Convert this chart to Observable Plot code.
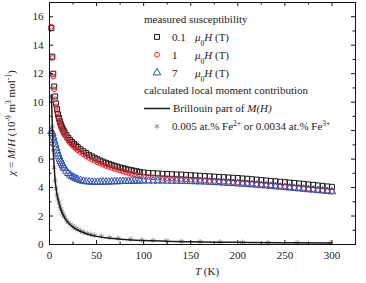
<!DOCTYPE html>
<html><head><meta charset="utf-8">
<script src="https://cdn.jsdelivr.net/npm/d3@7"></script>
<script src="https://cdn.jsdelivr.net/npm/@observablehq/plot@0.6"></script>
<style>
body{margin:0;background:#fff;}
#chart{position:relative;width:366px;height:283px;}
svg{font-family:"Liberation Serif","Times New Roman",serif;}
</style></head><body><div id="chart"></div>
<script>
// ---- data ----
const temps = [2,3,4,5,6,7,8,9,10,11,12,13,14,15,16,18,20,22,24,26,28,30,33,36,39,42,45,48,51,54,57,60,63,66,69,72,75,78,81,84,87,90,93,96,100,
  105,110,115,120,125,130,135,140,145,150,155,160,165,170,175,180,185,190,195,200,205,210,215,220,225,230,235,240,245,250,255,260,265,270,275,280,285,290,295,300];
const chi01 = [15.2,13.2,12.0,11.1,10.4,9.9,9.5,9.15,8.9,8.65,8.45,8.28,8.13,8.0,7.88,7.68,7.5,7.34,7.2,7.07,6.95,6.84,6.69,6.55,6.42,6.3,6.19,6.09,5.99,5.9,5.82,5.74,5.67,5.6,5.53,5.47,5.41,5.36,5.31,5.26,5.22,5.18,5.14,5.1,5.06,
  5.03,5.01,4.99,4.97,4.95,4.94,4.92,4.91,4.89,4.87,4.85,4.83,4.81,4.79,4.77,4.75,4.73,4.71,4.69,4.67,4.64,4.62,4.59,4.56,4.53,4.5,4.47,4.44,4.41,4.38,4.35,4.32,4.29,4.26,4.22,4.19,4.15,4.12,4.08,4.05];
const chi1 = [15.3,13.1,11.8,10.9,10.2,9.7,9.3,8.95,8.7,8.45,8.25,8.08,7.93,7.8,7.68,7.47,7.28,7.12,6.98,6.85,6.73,6.62,6.47,6.33,6.2,6.08,5.97,5.87,5.77,5.68,5.6,5.52,5.45,5.38,5.31,5.25,5.19,5.13,5.07,5.01,4.96,4.91,4.86,4.81,4.76,
  4.74,4.72,4.7,4.68,4.66,4.64,4.62,4.6,4.58,4.56,4.54,4.52,4.5,4.48,4.46,4.44,4.42,4.4,4.38,4.36,4.33,4.31,4.28,4.25,4.22,4.19,4.16,4.13,4.1,4.07,4.04,4.01,3.98,3.95,3.91,3.88,3.84,3.81,3.78,3.75];
const chi7 = [7.95,7.8,7.55,7.3,7.05,6.8,6.58,6.37,6.18,6.0,5.84,5.7,5.57,5.45,5.34,5.16,5.0,4.88,4.78,4.7,4.63,4.57,4.5,4.45,4.42,4.4,4.39,4.38,4.38,4.38,4.39,4.39,4.4,4.41,4.42,4.42,4.43,4.44,4.44,4.45,4.45,4.46,4.46,4.47,4.47,
  4.47,4.47,4.47,4.47,4.47,4.46,4.46,4.45,4.44,4.43,4.42,4.41,4.4,4.38,4.37,4.35,4.33,4.31,4.29,4.27,4.25,4.23,4.2,4.18,4.15,4.13,4.1,4.07,4.04,4.01,3.98,3.95,3.92,3.89,3.86,3.83,3.8,3.77,3.74,3.71];
const brillT = [2,3,4,5,6,7,8,10,12,15,20,25,30,40,50,60,80,100,150,200,250,300];
const brillChi = [10.5,8.3,6.6,5.4,4.5,3.95,3.5,2.95,2.48,2.0,1.52,1.22,1.02,0.74,0.57,0.47,0.35,0.28,0.19,0.15,0.12,0.1];
const crossT = [2,3,4,5,6,7,8,9,10,11,12,13,14,15,16,18,20,22,24,26,28,30,33,36,40,44,48,55,64,73,86,98,110,124,140,160,181,205,232,263,298];
const crossChi = [10.4,8.3,6.6,5.4,4.5,3.95,3.5,3.2,2.95,2.7,2.5,2.33,2.18,2.05,1.93,1.72,1.55,1.42,1.31,1.21,1.13,1.05,0.96,0.88,0.79,0.72,0.66,0.58,0.5,0.44,0.37,0.32,0.29,0.26,0.22,0.19,0.17,0.15,0.13,0.12,0.1];
const xMajor = [0,50,100,150,200,250,300];
const xMinor = [25,75,125,175,225,275];
const yMajor = [0,2,4,6,8,10,12,14,16];
const yMinor = [1,3,5,7,9,11,13,15,17];
const fields = ["0.1","1","7"];

// ---- layout ----
const W = 366, H = 283, ML = 49, MR = 11, MT = 2, MB = 39;
const FW = W - ML - MR, FH = H - MT - MB;
const C_BLACK = "#1a1a1a", C_RED = "#e8202a", C_BLUE = "#2f50b8", C_GRAY = "#808080";

const rows = temps.map((t, i) => ({t, a: chi01[i], b: chi1[i], c: chi7[i]}));
const brill = brillT.map((t, i) => ({t, v: brillChi[i]}));
const cross = crossT.map((t, i) => ({t, v: crossChi[i]}));

const plot = Plot.plot({
  width: W, height: H, marginLeft: ML, marginRight: MR, marginTop: MT, marginBottom: MB,
  style: {fontFamily: "Liberation Serif, Times New Roman, serif", fontSize: "11px", color: "#222", background: "#fff"},
  x: {domain: [0, 325]},
  y: {domain: [0, 17]},
  marks: [
    Plot.dot(rows, {x: "t", y: "a", symbol: "square", r: 2.8, stroke: C_BLACK, strokeWidth: 1}),
    Plot.dot(rows, {x: "t", y: "b", symbol: "circle", r: 2.4, stroke: C_RED, strokeWidth: 1}),
    Plot.dot(rows, {x: "t", y: "c", symbol: "triangle", r: 2.8, stroke: C_BLUE, strokeWidth: 1}),
    Plot.dot(cross, {x: "t", y: "v", symbol: "asterisk", r: 2.6, stroke: C_GRAY, strokeWidth: 0.8}),
    Plot.line(brill, {x: "t", y: "v", stroke: C_BLACK, strokeWidth: 1.5, curve: "monotone-x"}),
    // inward ticks on all four sides
    Plot.tickX(xMajor, {x: d => d, stroke: "#111", insetTop: FH - 4}),
    Plot.tickX(xMinor, {x: d => d, stroke: "#111", insetTop: FH - 2.5}),
    Plot.tickX(xMajor, {x: d => d, stroke: "#111", insetBottom: FH - 4}),
    Plot.tickX(xMinor, {x: d => d, stroke: "#111", insetBottom: FH - 2.5}),
    Plot.tickY(yMajor, {y: d => d, stroke: "#111", insetRight: FW - 4}),
    Plot.tickY(yMinor, {y: d => d, stroke: "#111", insetRight: FW - 2.5}),
    Plot.tickY(yMajor, {y: d => d, stroke: "#111", insetLeft: FW - 4}),
    Plot.tickY(yMinor, {y: d => d, stroke: "#111", insetLeft: FW - 2.5}),
    Plot.axisX({ticks: xMajor, tickSize: 0, tickPadding: 7, label: null, fill: "#222"}),
    Plot.axisY({ticks: yMajor, tickSize: 0, tickPadding: 6, label: null, fill: "#222"}),
    Plot.frame({stroke: "#111", strokeWidth: 1})
  ]
});
document.getElementById("chart").appendChild(plot);

// ---- axis titles and in-plot legend ----
const svg = d3.select(plot);
const FS = 11;
function rich(sel, parts) {
  parts.forEach(p => {
    const ts = sel.append("tspan").text(p.t);
    if (p.i) ts.attr("font-style", "italic");
    if (p.sup) ts.attr("font-size", 7.5).attr("baseline-shift", "super");
    if (p.sub) ts.attr("font-size", 7.5).attr("baseline-shift", "sub");
  });
  return sel;
}
const yt = svg.append("text").attr("font-size", FS).attr("fill", "#222").attr("text-anchor", "middle")
  .attr("transform", `translate(15,${MT + FH / 2}) rotate(-90)`);
rich(yt, [{t: "χ", i: 1}, {t: " = "}, {t: "M", i: 1}, {t: "/"}, {t: "H", i: 1}, {t: " (10"}, {t: "-9", sup: 1}, {t: " m"}, {t: "3", sup: 1}, {t: " mol"}, {t: "-1", sup: 1}, {t: ")"}]);
const xt = svg.append("text").attr("font-size", FS).attr("fill", "#222").attr("text-anchor", "middle")
  .attr("x", 207).attr("y", 275);
rich(xt, [{t: "T", i: 1}, {t: " (K)"}]);

const LX = 144, MX = 157, TX = 172, HX = 195, ROW = 17.9, LY0 = 19;
const lg = svg.append("g").attr("font-size", FS).attr("fill", "#222").attr("text-anchor", "start");
function ltext(x, y, parts) {
  const t = lg.append("text").attr("x", x).attr("y", y).attr("dy", "0.35em").attr("text-anchor", "start");
  return rich(t, parts);
}
ltext(LX, LY0, [{t: "measured susceptibility"}]);
const sym = [d3.symbolSquare, d3.symbolCircle, d3.symbolTriangle];
const symR = [2.8, 2.4, 2.8];
const cols = [C_BLACK, C_RED, C_BLUE];
fields.forEach((f, i) => {
  const y = LY0 + ROW * (i + 1);
  lg.append("path").attr("d", d3.symbol(sym[i], Math.PI * symR[i] * symR[i])())
    .attr("transform", `translate(${MX},${y})`).attr("fill", "none").attr("stroke", cols[i]).attr("stroke-width", 1);
  ltext(TX, y, [{t: f}]);
  ltext(HX, y, [{t: "μ", i: 1}, {t: "0", sub: 1}, {t: "H", i: 1}, {t: " (T)"}]);
});
ltext(LX, LY0 + ROW * 4, [{t: "calculated local moment contribution"}]);
lg.append("line").attr("x1", LX).attr("x2", TX - 2).attr("y1", LY0 + ROW * 5).attr("y2", LY0 + ROW * 5)
  .attr("stroke", C_BLACK).attr("stroke-width", 1.5);
ltext(TX + 1, LY0 + ROW * 5, [{t: "Brillouin part of "}, {t: "M(H)", i: 1}]);
lg.append("path").attr("d", d3.symbol(d3.symbolAsterisk, Math.PI * 2.6 * 2.6)())
  .attr("transform", `translate(${MX},${LY0 + ROW * 6})`).attr("fill", "none").attr("stroke", C_GRAY).attr("stroke-width", 0.8);
ltext(TX, LY0 + ROW * 6, [{t: "0.005 at.% Fe"}, {t: "2+", sup: 1}, {t: " or 0.0034 at.% Fe"}, {t: "3+", sup: 1}]);
</script></body></html>
